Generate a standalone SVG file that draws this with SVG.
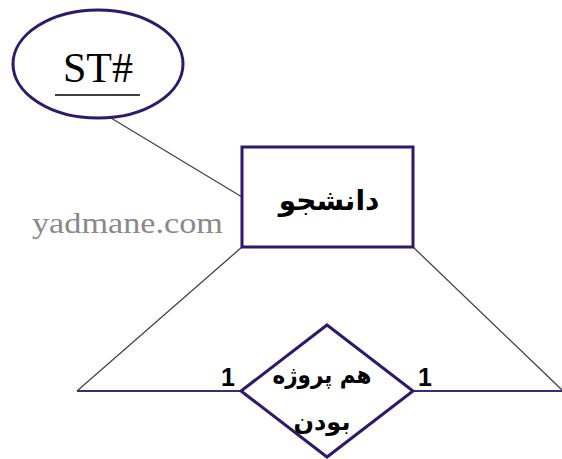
<svg xmlns="http://www.w3.org/2000/svg" width="562" height="459" viewBox="0 0 562 459">
<style>
.shape{fill:#fff;stroke:#2d1b69;stroke-width:3}
.conn{stroke:#444;stroke-width:1.3;fill:none}
.hconn{stroke:#3a2c6e;stroke-width:2;fill:none}
.fa{font-family:"DejaVu Sans",sans-serif;fill:#000;text-anchor:middle}
.num{font-family:"Liberation Sans",Arial,sans-serif;font-weight:bold;font-size:25px;fill:#000}
</style>
<rect width="562" height="459" fill="#fff"/>
<g id="connectors">
<line class="conn" x1="111" y1="118" x2="242" y2="197"/>
<line class="conn" x1="242" y1="247" x2="77" y2="391"/>
<line class="hconn" x1="77" y1="391" x2="240" y2="391"/>
<line class="conn" x1="413" y1="247" x2="562" y2="390"/>
<line class="hconn" x1="413" y1="391" x2="562" y2="391"/>
</g>
<g id="st">
<ellipse class="shape" cx="98" cy="64" rx="85" ry="54"/>
<text x="98" y="82" font-family="'Liberation Serif',serif" font-size="42" text-anchor="middle">ST#</text>
<line x1="55" y1="95" x2="140" y2="95" stroke="#000" stroke-width="1.5"/>
</g>
<g id="student">
<rect class="shape" x="242" y="147" width="171" height="100"/>
<text class="fa" x="329" y="210" font-size="28" font-weight="bold" direction="rtl">دانشجو</text>
</g>
<g id="relation">
<polygon class="shape" points="327,325 413,391 327,457 241,391"/>
<text class="fa" x="322" y="383" font-size="24" font-weight="bold" direction="rtl" textLength="99" lengthAdjust="spacingAndGlyphs">هم پروژه</text>
<text class="fa" x="322" y="430" font-size="24" font-weight="bold" direction="rtl">بودن</text>
</g>
<text class="num" x="221" y="386">1</text>
<text class="num" x="418" y="386">1</text>
<text x="32" y="233" font-family="'Liberation Serif',serif" font-size="29" fill="#8a8a8a" textLength="191" lengthAdjust="spacingAndGlyphs">yadmane.com</text>
</svg>
